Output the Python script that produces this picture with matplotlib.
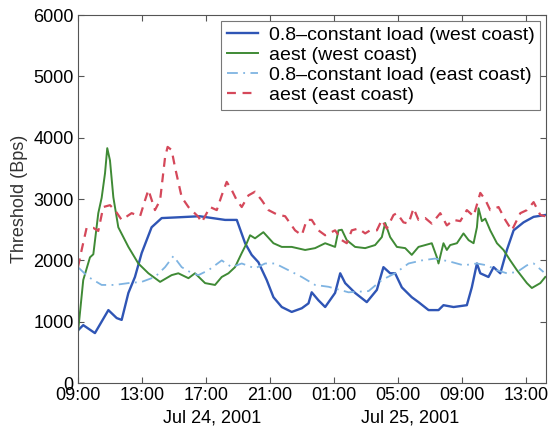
import matplotlib
matplotlib.use("Agg")
import matplotlib.pyplot as plt
from matplotlib.transforms import blended_transform_factory

plt.rcParams['font.family'] = ['Liberation Sans', 'DejaVu Sans']

# hours since 09:00 Jul 24, 2001
west_load_h = [0.0, 0.33, 1.06, 1.9, 2.42, 2.73, 3.15, 3.56, 3.98, 4.6,
               5.23, 6.06, 7.6, 9.19, 9.92, 10.44, 10.85, 11.27, 11.79, 12.21,
               12.73, 13.35, 13.98, 14.4, 14.6, 15.02, 15.44, 16.06, 16.38, 16.69,
               17.31, 18.04, 18.67, 19.08, 19.5, 19.81, 20.23, 20.85, 21.27, 21.9,
               22.52, 22.83, 23.46, 24.29, 24.6, 24.92, 25.13, 25.64, 25.96, 26.38,
               26.79, 27.21, 27.83, 28.46, 29.19]
west_load = [860, 945, 815, 1190, 1060, 1030, 1470, 1730, 2120, 2540,
             2690, 2700, 2720, 2660, 2660, 2280, 2090, 1970, 1680, 1400,
             1240, 1160, 1220, 1300, 1480, 1350, 1240, 1470, 1790, 1630,
             1470, 1320, 1520, 1890, 1790, 1790, 1560, 1400, 1320, 1190,
             1190, 1270, 1240, 1270, 1560, 1950, 1790, 1730, 1890, 1790,
             2170, 2490, 2620, 2710, 2740]

west_aest_h = [0.0, 0.33, 0.75, 0.96, 1.27, 1.48, 1.69, 1.83, 2.0, 2.21,
               2.52, 3.15, 3.77, 4.4, 5.13, 5.85, 6.27, 6.9, 7.31, 7.94,
               8.56, 8.98, 9.4, 9.81, 10.23, 10.54, 10.75, 11.06, 11.58, 12.21,
               12.73, 13.35, 14.19, 14.81, 15.44, 16.06, 16.27, 16.48, 16.79, 17.31,
               17.94, 18.56, 18.98, 19.19, 19.5, 19.92, 20.44, 20.85, 21.27, 21.69,
               22.1, 22.42, 22.52, 22.83, 23.04, 23.25, 23.67, 24.08, 24.4, 24.71,
               24.92, 25.02, 25.23, 25.44, 25.75, 26.17, 26.58, 27.0, 27.42, 28.04,
               28.35, 28.88, 29.19]
west_aest = [820, 1680, 2050, 2100, 2770, 3020, 3420, 3830, 3630, 3030,
             2540, 2220, 1950, 1790, 1650, 1760, 1790, 1710, 1790, 1630,
             1600, 1730, 1790, 1890, 2120, 2280, 2410, 2360, 2460, 2280,
             2220, 2220, 2170, 2200, 2280, 2220, 2490, 2500, 2330, 2220,
             2200, 2250, 2380, 2610, 2380, 2220, 2200, 2090, 2220, 2250,
             2280, 2050, 1950, 2280, 2170, 2250, 2280, 2440, 2330, 2280,
             2540, 2850, 2640, 2680, 2490, 2280, 2170, 2000, 1840, 1630,
             1550, 1630, 1730]

east_load_h = [0.0, 0.65, 1.48, 2.31, 3.15, 3.98, 4.81, 5.44, 5.96, 6.48,
               7.0, 7.52, 8.15, 8.98, 9.6, 10.23, 11.06, 11.69, 12.31, 13.15,
               13.98, 14.81, 15.65, 16.9, 18.15, 18.98, 19.81, 20.65, 21.48, 22.31,
               23.25, 24.08, 24.92, 25.54, 26.17, 26.79, 27.42, 28.04, 28.46, 29.08]
east_load = [1890, 1730, 1600, 1600, 1630, 1650, 1730, 1890, 2070, 1890,
             1810, 1760, 1840, 2000, 1890, 1950, 1870, 1950, 1950, 1840,
             1730, 1600, 1570, 1480, 1500, 1680, 1790, 1950, 2000, 2030,
             1980, 1920, 1950, 1920, 1840, 1790, 1810, 1920, 1950, 1810]

east_aest_h = [0.0, 0.23, 0.54, 0.96, 1.27, 1.58, 2.0, 2.31, 2.73, 3.35,
               3.88, 4.19, 4.4, 4.81, 5.13, 5.44, 5.6, 5.85, 6.06, 6.48,
               6.9, 7.52, 7.73, 8.25, 8.67, 8.98, 9.29, 9.6, 9.92, 10.23,
               10.65, 11.06, 11.48, 11.9, 12.42, 12.94, 13.56, 13.98, 14.29, 14.6,
               15.02, 15.44, 16.06, 16.48, 16.79, 17.1, 17.52, 17.94, 18.25, 18.67,
               18.98, 19.29, 19.71, 19.92, 20.33, 20.65, 20.96, 21.27, 21.69, 22.1,
               22.63, 23.04, 23.46, 23.88, 24.29, 24.71, 25.13, 25.44, 25.75, 26.27,
               26.69, 27.1, 27.63, 28.04, 28.46, 28.88, 29.19]
east_aest = [1890, 2170, 2530, 2530, 2480, 2870, 2900, 2820, 2660, 2770,
             2720, 2980, 3150, 2820, 2980, 3680, 3850, 3800, 3520, 3030,
             2870, 2710, 2620, 2870, 2820, 3060, 3280, 3150, 2980, 2870,
             3060, 3120, 2980, 2820, 2750, 2720, 2490, 2410, 2660, 2660,
             2490, 2410, 2490, 2330, 2280, 2490, 2520, 2440, 2490, 2490,
             2660, 2520, 2740, 2770, 2620, 2600, 2850, 2660, 2690, 2600,
             2770, 2570, 2660, 2640, 2820, 2720, 3100, 2990, 2820, 2870,
             2660, 2490, 2770, 2820, 2950, 2740, 2720]

tick_hours = [0, 4, 8, 12, 16, 20, 24, 28]
tick_labels = ['09:00', '13:00', '17:00', '21:00', '01:00', '05:00', '09:00', '13:00']
dates = ['Jul 24, 2001', 'Jul 25, 2001']
date_hours = [8.4, 20.75]

fs = 13

fig = plt.figure(figsize=(5.49, 4.29), dpi=100)
ax = fig.add_axes([0.142, 0.107, 0.853, 0.858])

ax.plot(west_load_h, west_load, color='#2f55b5', lw=1.7, label='0.8\u2013constant load (west coast)')
ax.plot(west_aest_h, west_aest, color='#3f8a35', lw=1.4, label='aest (west coast)')
ax.plot(east_load_h, east_load, color='#7fb4e2', lw=1.3, ls=(0, (6, 3, 1, 3)), label='0.8\u2013constant load (east coast)')
ax.plot(east_aest_h, east_aest, color='#d5485a', lw=1.6, ls=(0, (4, 3)), label='aest (east coast)')

ax.set_xlim(0, 29.25)
ax.set_ylim(0, 6000)
ax.set_xticks(tick_hours)
ax.set_xticklabels(tick_labels)
ax.set_yticks(range(0, 6001, 1000))
ax.tick_params(direction='in', length=4, top=True, right=True, labelsize=fs,
               color='#555555', pad=3)
for s in ax.spines.values():
    s.set_color('#555555')
    s.set_linewidth(0.8)
ax.set_ylabel('Threshold (Bps)', fontsize=fs, color='#333333', labelpad=4)

trans = blended_transform_factory(ax.transData, ax.transAxes)
for d, h in zip(dates, date_hours):
    ax.text(h, -0.072, d, transform=trans, ha='center', va='top', fontsize=fs)

leg = ax.legend(loc='upper right', fontsize=14, frameon=True, fancybox=False,
                borderaxespad=0.3, handlelength=1.6, labelspacing=0.12,
                borderpad=0.3, handletextpad=0.55)
leg.get_frame().set_edgecolor('#555555')
leg.get_frame().set_linewidth(0.8)

fig.savefig('out.png', dpi=100)
